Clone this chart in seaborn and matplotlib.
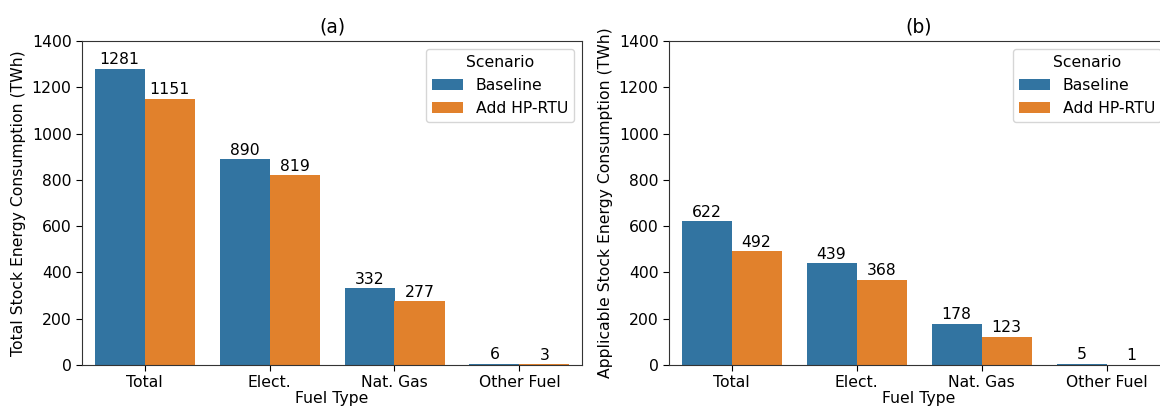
import matplotlib
matplotlib.use("Agg")
import matplotlib.pyplot as plt
import seaborn as sns
import pandas as pd

fuel_types = ["Total", "Elect.", "Nat. Gas", "Other Fuel"]
scenarios = ["Baseline", "Add HP-RTU"]

total_baseline = [1281, 890, 332, 6]
total_hprtu = [1151, 819, 277, 3]

applicable_baseline = [622, 439, 178, 5]
applicable_hprtu = [492, 368, 123, 1]


def make_frame(base, hp):
    rows = []
    for f, b, h in zip(fuel_types, base, hp):
        rows.append({"Fuel Type": f, "Scenario": scenarios[0], "Energy": b})
        rows.append({"Fuel Type": f, "Scenario": scenarios[1], "Energy": h})
    return pd.DataFrame(rows)


df_total = make_frame(total_baseline, total_hprtu)
df_applicable = make_frame(applicable_baseline, applicable_hprtu)

plt.rcParams["font.family"] = ["DejaVu Sans"]
FS = 11.25
W, H = 1160, 408
fig = plt.figure(figsize=(W / 100, H / 100), dpi=100)
ax1 = fig.add_axes([82 / W, 43 / H, 500 / W, 324 / H])
ax2 = fig.add_axes([669 / W, 43 / H, 500 / W, 324 / H])

panels = [
    (ax1, df_total, "(a)", "Total Stock Energy Consumption (TWh)"),
    (ax2, df_applicable, "(b)", "Applicable Stock Energy Consumption (TWh)"),
]

for ax, df, title, ylabel in panels:
    sns.barplot(data=df, x="Fuel Type", y="Energy", hue="Scenario",
                order=fuel_types, hue_order=scenarios, ax=ax,
                errorbar=None)
    for container in ax.containers:
        ax.bar_label(container, fmt="%d", fontsize=FS, padding=1)
    ax.set_ylim(0, 1400)
    ax.set_yticks(range(0, 1401, 200))
    ax.set_title(title, fontsize=13.5)
    ax.set_ylabel(ylabel, fontsize=FS)
    ax.set_xlabel("Fuel Type", fontsize=FS, labelpad=0.5)
    ax.tick_params(labelsize=FS, length=4)
    for s in ax.spines.values():
        s.set_color("#333333")
    ax.legend(title="Scenario", loc="upper right", fontsize=FS,
              title_fontsize=FS)

fig.savefig("out.png", dpi=100)
